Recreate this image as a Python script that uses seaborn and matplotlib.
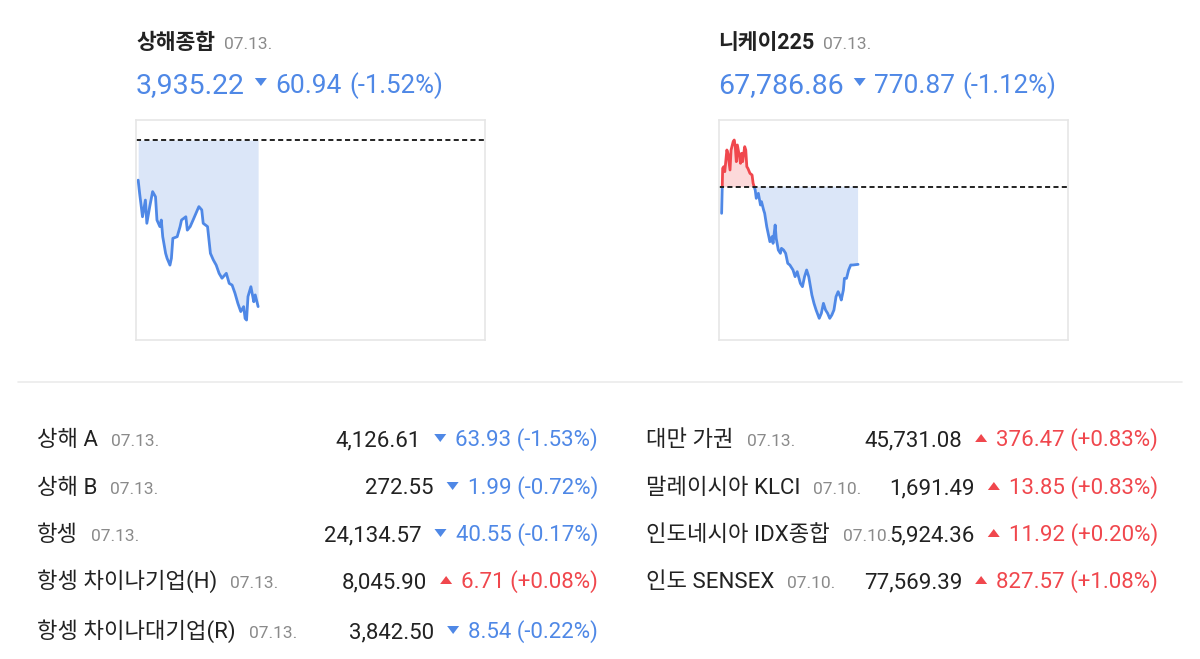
import numpy as np
import pandas as pd
import seaborn as sns
import matplotlib.pyplot as plt
from matplotlib.patches import Polygon
from matplotlib.lines import Line2D

sns.set_theme(style="white")
plt.rcParams["font.family"] = ["Roboto", "Noto Sans CJK KR"]

W, H = 1200, 659
BLUE = "#4f88e6"
BLUE_FILL = "#dbe6f8"
RED = "#f0474d"
RED_FILL = "#fcd9da"
DARK = "#222222"
GRAY = "#8a8a8a"

# intraday data (minutes since open, index level)
sh_minutes = [0, 1, 3, 5, 6, 8, 10, 12, 13, 15, 16, 17, 19, 20, 22, 23, 24, 27, 29, 30,
              33, 34, 36, 38, 41, 42, 44, 45, 48, 50, 52, 54, 56, 58, 61, 63, 65, 67, 69, 71,
              73, 74, 75, 76, 78, 80, 81, 83]
sh_values = [3981.5, 3976.7, 3968.1, 3974.2, 3965.7, 3971.8, 3977.3, 3975.4, 3966.9, 3964.5,
             3966.9, 3960.8, 3954.7, 3952.9, 3950.4, 3952.9, 3960.2, 3960.8, 3964.5, 3966.9,
             3968.1, 3963.2, 3964.5, 3966.9, 3970.6, 3971.8, 3970.6, 3965.7, 3964.5, 3954.7,
             3952.3, 3950.4, 3947.4, 3945.6, 3947.4, 3943.7, 3943.1, 3940.1, 3936.4, 3933.4,
             3935.2, 3930.9, 3930.3, 3938.9, 3942.5, 3937.0, 3939.5, 3935.22]
sh_prev = 3996.16

nk_minutes = [0, 1, 2, 3, 5, 6, 8, 9, 11, 12, 13, 14, 15, 17, 18, 19, 20, 22, 23, 24,
              25, 27, 29, 30, 32, 33, 35, 37, 38, 40, 41, 43, 44, 46, 48, 49, 51, 52, 54, 56,
              57, 59, 61, 63, 65, 68, 70, 72, 75, 77, 79, 81, 83, 86, 88, 90, 93, 95, 97, 99,
              101, 103, 105, 107, 109, 111, 113, 114, 116, 117, 119, 121, 123, 125, 130]
nk_values = [68293.2, 68739.6, 68756.1, 68706.5, 68921.5, 68888.4, 68723.1, 68921.5, 69004.2, 69020.7,
             68954.6, 68805.7, 68971.1, 68855.4, 68789.2, 68888.4, 68805.7, 68954.6, 68921.5, 68756.1,
             68739.6, 68690.0, 68673.5, 68590.8, 68524.7, 68442.0, 68491.6, 68375.8, 68408.9, 68326.2,
             68293.2, 68160.9, 68111.3, 68012.0, 68061.7, 67995.5, 68177.4, 68045.1, 67929.4, 67896.3,
             67945.9, 67929.4, 67896.3, 67797.1, 67780.6, 67731.0, 67664.8, 67714.4, 67598.7, 67565.6,
             67664.8, 67731.0, 67664.8, 67482.9, 67400.2, 67334.1, 67251.4, 67301.0, 67400.2, 67334.1,
             67301.0, 67251.4, 67284.5, 67334.1, 67466.4, 67516.0, 67466.4, 67433.3, 67532.5, 67648.3,
             67648.3, 67731.0, 67780.6, 67780.6, 67786.86]
nk_prev = 68557.73

head_names = ["상해종합", "니케이225"]
head_dates = ["07.13.", "07.13."]
head_values = ["3,935.22", "67,786.86"]
head_changes = ["60.94", "770.87"]
head_pcts = ["(-1.52%)", "(-1.12%)"]

left_names = ["상해 A", "상해 B", "항셍", "항셍 차이나기업(H)", "항셍 차이나대기업(R)"]
left_dates = ["07.13.", "07.13.", "07.13.", "07.13.", "07.13."]
left_prices = ["4,126.61", "272.55", "24,134.57", "8,045.90", "3,842.50"]
left_changes = ["63.93 (-1.53%)", "1.99 (-0.72%)", "40.55 (-0.17%)", "6.71 (+0.08%)", "8.54 (-0.22%)"]

right_names = ["대만 가권", "말레이시아 KLCI", "인도네시아 IDX종합", "인도 SENSEX"]
right_dates = ["07.13.", "07.10.", "07.10.", "07.10."]
right_prices = ["45,731.08", "1,691.49", "5,924.36", "77,569.39"]
right_changes = ["376.47 (+0.83%)", "13.85 (+0.83%)", "11.92 (+0.20%)", "827.57 (+1.08%)"]

fig = plt.figure(figsize=(12, 6.59), dpi=100)
rend = fig.canvas.get_renderer()


def put(x, y, s, size, color=DARK, ha="left", weight="normal"):
    return fig.text(x / W, 1 - y / H, s, fontsize=size, color=color, ha=ha,
                    va="baseline", fontweight=weight)


def span(t):
    bb = t.get_window_extent(renderer=rend)
    return bb.x0, bb.x1


def tri(xc, yc, up, color, w=12, h=8):
    if up:
        pts = [(xc - w / 2, yc + h / 2), (xc + w / 2, yc + h / 2), (xc, yc - h / 2)]
    else:
        pts = [(xc - w / 2, yc - h / 2), (xc + w / 2, yc - h / 2), (xc, yc + h / 2)]
    pts = [(px / W, 1 - py / H) for px, py in pts]
    fig.add_artist(Polygon(pts, closed=True, facecolor=color, lw=0, transform=fig.transFigure))


def split(minutes, values, prev):
    rows = []
    seg = 0
    for i, (m, v) in enumerate(zip(minutes, values)):
        if i > 0:
            m0, v0 = minutes[i - 1], values[i - 1]
            if (v0 - prev) * (v - prev) < 0:
                mc = m0 + (prev - v0) / (v - v0) * (m - m0)
                rows.append((mc, prev, "up" if v0 > prev else "down", seg))
                seg += 1
                rows.append((mc, prev, "up" if v > prev else "down", seg))
        rows.append((m, v, "up" if v >= prev else "down", seg))
    return pd.DataFrame(rows, columns=["minute", "value", "side", "seg"])


def chart(left_px, minutes, values, prev, xlim, ylim):
    ax = fig.add_axes([left_px / W, 1 - 340 / H, 349 / W, 220 / H])
    df = split(minutes, values, prev)
    ax.fill_between(df["minute"], df["value"], prev, where=df["value"] <= prev,
                    color=BLUE_FILL, lw=0)
    ax.fill_between(df["minute"], df["value"], prev, where=df["value"] >= prev,
                    color=RED_FILL, lw=0)
    sns.lineplot(data=df, x="minute", y="value", hue="side", units="seg", estimator=None,
                 palette={"up": RED, "down": BLUE}, legend=False, lw=2.0, sort=False, ax=ax)
    ax.axhline(prev, color="#222222", lw=1.4, ls=(0, (2.6, 1.7)))
    ax.set_xlim(*xlim)
    ax.set_ylim(*ylim)
    ax.set_xticks([])
    ax.set_yticks([])
    ax.set_xlabel("")
    ax.set_ylabel("")
    for s in ax.spines.values():
        s.set_color("#e6e6e6")
        s.set_linewidth(1.2)
    return ax


chart(136, sh_minutes, sh_values, sh_prev, (-1.5, 240), (3923.0, 4003.5))
chart(719, nk_minutes, nk_values, nk_prev, (-2.5, 330), (67036.5, 69219.1))

# headline blocks above the charts
for x0, name, date, val, chg, pct in zip([136, 718], head_names, head_dates, head_values,
                                         head_changes, head_pcts):
    t = put(x0, 49, name, 15.5, weight="bold")
    put(span(t)[1] + 9, 49, date, 12.5, color=GRAY)
    t = put(x0, 93, val, 20.5, color=BLUE)
    e = span(t)[1]
    tri(e + 16, 82, False, BLUE)
    t = put(e + 30, 93, chg, 19, color=BLUE)
    put(span(t)[1] + 8, 93, pct, 18.5, color=BLUE)

fig.add_artist(Line2D([18 / W, 1182 / W], [1 - 382 / H] * 2, color="#ebebeb", lw=1.2))

baselines = [446, 494, 541, 588, 638]


def rows(x0, right, names, dates, prices, changes):
    for y, name, date, price, chg in zip(baselines, names, dates, prices, changes):
        up = "+" in chg
        col = RED if up else BLUE
        t = put(x0, y, name, 16)
        put(span(t)[1] + 13, y, date, 12.5, color=GRAY)
        t = put(right, y, chg, 16, color=col, ha="right")
        c0 = span(t)[0]
        tri(c0 - 15, y - 8, up, col)
        put(c0 - 34, y, price, 16, ha="right")


rows(37, 598, left_names, left_dates, left_prices, left_changes)
rows(646, 1158, right_names, right_dates, right_prices, right_changes)

fig.savefig("out.png", dpi=100, facecolor="white")
